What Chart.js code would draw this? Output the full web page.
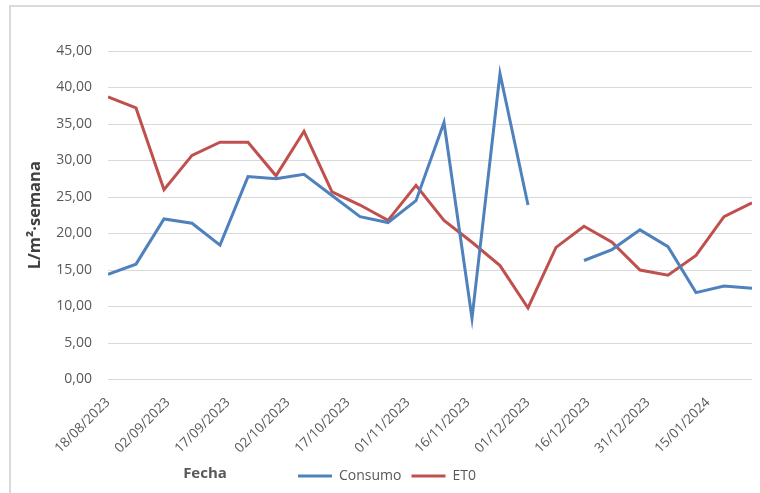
<!DOCTYPE html>
<html>
<head>
<meta charset="utf-8">
<script src="https://cdn.jsdelivr.net/npm/chart.js@4/dist/chart.umd.min.js"></script>
<style>
  html, body { margin: 0; padding: 0; background: #fff; }
  #wrap { position: relative; width: 760px; height: 493px; overflow: hidden; }
  #frame { position: absolute; left: 9px; top: 5px; width: 760px; height: 500px; border: 2px solid #d9d9d9; }
  #grafico { position: absolute; left: 0; top: 0; }
</style>
</head>
<body>
<div id="wrap">
  <div id="frame"></div>
  <canvas id="grafico" width="760" height="493"></canvas>
</div>
<script>
// Fechas semanales de medición
const fechas = [
  "2023-08-18", "2023-08-25", "2023-09-01", "2023-09-08", "2023-09-15", "2023-09-22",
  "2023-09-29", "2023-10-06", "2023-10-13", "2023-10-20", "2023-10-27", "2023-11-03",
  "2023-11-10", "2023-11-17", "2023-11-24", "2023-12-01", "2023-12-08", "2023-12-15",
  "2023-12-22", "2023-12-29", "2024-01-05", "2024-01-12", "2024-01-19", "2024-01-26"
];

// L/m2 por semana (null = sin dato)
const consumo = [
  14.4, 15.8, 22.0, 21.4, 18.4, 27.8, 27.5, 28.1, 25.2, 22.3, 21.5, 24.5,
  35.2, 8.4, 41.9, 23.9, null, 16.3, 17.8, 20.5, 18.2, 11.9, 12.8, 12.5
];
const et0 = [
  38.7, 37.2, 26.0, 30.7, 32.5, 32.5, 27.9, 34.0, 25.7, 23.9, 21.8, 26.6,
  21.8, 18.8, 15.6, 9.8, 18.1, 21.0, 18.8, 15.0, 14.3, 17.0, 22.3, 24.2
];

// Eje Y
const yMin = 0;
const yMax = 45;
const yPaso = 5;
// Eje X: etiquetas cada 15 días desde la primera fecha
const xPaso = 15;

const DIA = 86400000;
const inicio = new Date(fechas[0] + "T00:00:00Z").getTime();
const dias = fechas.map(f => Math.round((new Date(f + "T00:00:00Z").getTime() - inicio) / DIA));

const pad = n => String(n).padStart(2, "0");
function fmtFecha(d) {
  const t = new Date(inicio + d * DIA);
  return pad(t.getUTCDate()) + "/" + pad(t.getUTCMonth() + 1) + "/" + t.getUTCFullYear();
}

const fuente = "'Open Sans', 'Liberation Sans', sans-serif";
const gris = "#595959";

// Título del eje X a la izquierda de la leyenda
const tituloFecha = {
  id: "tituloFecha",
  afterDraw(chart) {
    const ctx = chart.ctx;
    ctx.save();
    ctx.font = "bold 15px " + fuente;
    ctx.fillStyle = gris;
    ctx.textAlign = "center";
    ctx.textBaseline = "middle";
    ctx.fillText("Fecha", 205, 474);
    ctx.restore();
  }
};

new Chart(document.getElementById("grafico"), {
  type: "line",
  data: {
    datasets: [
      {
        label: "Consumo",
        data: dias.map((d, i) => ({ x: d, y: consumo[i] })),
        borderColor: "#4F81BD",
        backgroundColor: "#4F81BD",
        borderWidth: 3,
        pointRadius: 0,
        tension: 0,
        spanGaps: false
      },
      {
        label: "ET0",
        data: dias.map((d, i) => ({ x: d, y: et0[i] })),
        borderColor: "#C0504D",
        backgroundColor: "#C0504D",
        borderWidth: 3,
        pointRadius: 0,
        tension: 0
      }
    ]
  },
  options: {
    responsive: false,
    animation: false,
    layout: { padding: { left: 22, top: 51, right: 8, bottom: 0 } },
    plugins: {
      tooltip: { enabled: false },
      legend: {
        position: "bottom",
        labels: {
          usePointStyle: true,
          pointStyle: "line",
          pointStyleWidth: 34,
          padding: 10,
          color: gris,
          font: { family: fuente, size: 14 }
        }
      }
    },
    scales: {
      x: {
        type: "linear",
        min: dias[0],
        max: dias[dias.length - 1],
        grid: { display: false },
        border: { display: false },
        ticks: {
          stepSize: xPaso,
          includeBounds: false,
          autoSkip: false,
          minRotation: 45,
          maxRotation: 45,
          padding: 7,
          color: gris,
          font: { family: fuente, size: 13.5 },
          callback: v => fmtFecha(v)
        },
        afterFit: s => { s.height = 79.5; }
      },
      y: {
        min: yMin,
        max: yMax,
        grid: { color: "#d9d9d9", drawTicks: false },
        border: { display: false },
        ticks: {
          stepSize: yPaso,
          padding: 16,
          color: gris,
          font: { family: fuente, size: 14 },
          callback: v => v.toFixed(2).replace(".", ",")
        },
        title: {
          display: true,
          text: "L/m²·semana",
          color: "#404040",
          padding: { top: 3, bottom: 4 },
          font: { family: fuente, size: 16.5, weight: "bold" }
        },
        afterFit: s => { s.width = 86; }
      }
    }
  },
  plugins: [tituloFecha]
});
</script>
</body>
</html>
